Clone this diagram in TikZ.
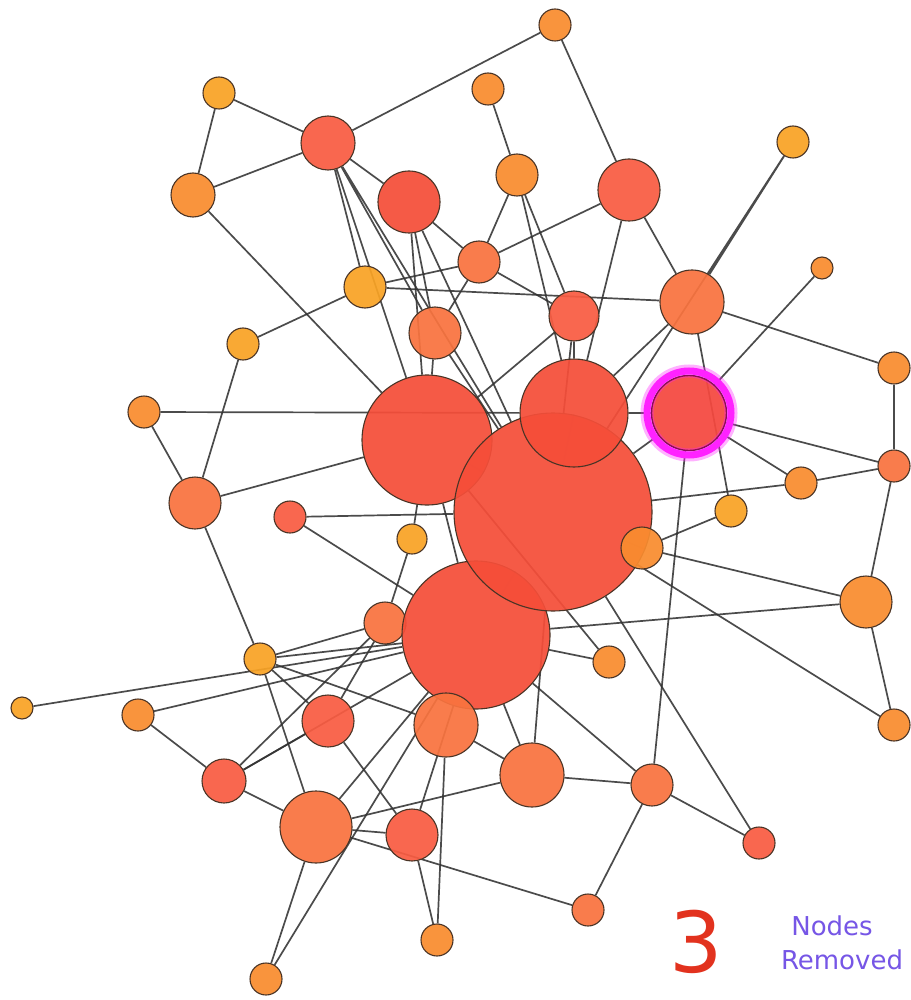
\documentclass[tikz,border=0pt]{standalone}
\usepackage{fontspec}
\setmainfont{DejaVu Sans}
\usetikzlibrary{backgrounds}

\definecolor{leafcol}{HTML}{F9A325}
\definecolor{peercol}{HTML}{F98C2F}
\definecolor{relaycol}{HTML}{F9733F}
\definecolor{corecol}{HTML}{F95C42}
\definecolor{hubcol}{HTML}{F54E39}
\definecolor{gonecol}{HTML}{F5483F}
\definecolor{glowcol}{HTML}{FF22FF}
\definecolor{rimcol}{HTML}{4A3426}
\definecolor{wirecol}{HTML}{333333}
\definecolor{countcol}{HTML}{E2321E}
\definecolor{labelcol}{HTML}{7656E6}

\tikzstyle{vertex} = [circle, inner sep=0pt, draw=rimcol, line width=1.1pt, fill opacity=0.93]
\tikzstyle{leaf} = [vertex, fill=leafcol, minimum size=32pt]
\tikzstyle{peer} = [vertex, fill=peercol]
\tikzstyle{relay} = [vertex, fill=relaycol]
\tikzstyle{core} = [vertex, fill=corecol]
\tikzstyle{hub} = [vertex, fill=hubcol]
\tikzstyle{gone} = [vertex, fill=gonecol, draw=black!70!red, line width=1.4pt]
\tikzstyle{wire} = [draw=wirecol, line width=1.7pt, opacity=0.88]

\begin{document}
\begin{tikzpicture}[x=1pt, y=-1pt]
    \useasboundingbox (0,0) rectangle (910,1000);

    % top rows
    \node (n1) at (555,25) [peer, minimum size=32pt] {};
    \node (n2) at (219,93) [leaf] {};
    \node (n3) at (488,89) [peer, minimum size=32pt] {};
    \node (n4) at (328,143) [core, minimum size=54pt] {};
    \node (n5) at (793,142) [leaf] {};
    \node (n6) at (193,195) [peer, minimum size=44pt] {};
    \node (n7) at (409,202) [hub, minimum size=62pt] {};
    \node (n8) at (517,175) [peer, minimum size=42pt] {};
    \node (n9) at (629,190) [core, minimum size=62pt] {};
    \node (n10) at (822,268) [peer, minimum size=22pt] {};
    \node (n11) at (479,262) [relay, minimum size=42pt] {};
    \node (n12) at (365,287) [leaf, minimum size=42pt] {};
    \node (n13) at (692,302) [relay, minimum size=64pt] {};
    \node (n14) at (574,316) [core, minimum size=50pt] {};
    \node (n15) at (435,333) [relay, minimum size=52pt] {};
    \node (n16) at (243,344) [leaf] {};
    \node (n17) at (894,368) [peer, minimum size=32pt] {};
    \node (n18) at (144,412) [peer, minimum size=32pt] {};

    % middle
    \node (n19) at (427,440) [hub, minimum size=130pt] {};
    \node (n31) at (385,623) [relay, minimum size=42pt] {};
    \node (n30) at (476,635) [hub, minimum size=148pt] {};
    \node (n22) at (553,512) [hub, minimum size=198pt] {};
    \node (n20) at (574,413) [hub, minimum size=108pt] {};
    \node (n21) at (689,413) [gone, minimum size=75pt] {};
    \node (n23) at (195,503) [relay, minimum size=52pt] {};
    \node (n24) at (290,517) [core, minimum size=32pt] {};
    \node (n25) at (412,539) [leaf, minimum size=30pt] {};
    \node (n26) at (801,483) [peer, minimum size=32pt] {};
    \node (n27) at (894,466) [relay, minimum size=32pt] {};
    \node (n28) at (731,511) [leaf] {};
    \node (n29) at (642,548) [peer, minimum size=42pt] {};
    \node (n32) at (866,602) [peer, minimum size=52pt] {};

    % bottom rows
    \node (n33) at (260,659) [leaf] {};
    \node (n34) at (609,662) [peer, minimum size=32pt] {};
    \node (n35) at (22,708) [leaf, minimum size=22pt] {};
    \node (n36) at (138,715) [peer, minimum size=32pt] {};
    \node (n37) at (328,721) [core, minimum size=52pt] {};
    \node (n38) at (446,725) [relay, minimum size=64pt] {};
    \node (n39) at (894,725) [peer, minimum size=32pt] {};
    \node (n40) at (224,781) [core, minimum size=44pt] {};
    \node (n41) at (532,775) [relay, minimum size=64pt] {};
    \node (n42) at (652,785) [relay, minimum size=42pt] {};
    \node (n43) at (316,827) [relay, minimum size=72pt] {};
    \node (n44) at (412,835) [core, minimum size=52pt] {};
    \node (n45) at (759,843) [core, minimum size=32pt] {};
    \node (n46) at (588,910) [relay, minimum size=32pt] {};
    \node (n47) at (437,940) [peer, minimum size=32pt] {};
    \node (n48) at (266,979) [peer, minimum size=32pt] {};

    % highlight of the removed node
    \draw [glowcol, opacity=0.35, line width=13pt] (n21.center) circle (42pt);
    \draw [glowcol, line width=7pt] (n21.center) circle (42pt);

    \node (count) at (696,972) [anchor=base, text=countcol, font=\fontsize{84}{84}\selectfont] {3};
    \node (nodes) at (832,935) [anchor=base, text=labelcol, font=\fontsize{26}{26}\selectfont] {Nodes};
    \node (removed) at (842,969) [anchor=base, text=labelcol, font=\fontsize{26}{26}\selectfont] {Removed};

    \begin{scope}[on background layer]
    \fill [white] (0,0) rectangle (910,1000);
    \draw [wire] (n1) -- (n4) (n1) -- (n9);
    \draw [wire] (n2) -- (n4) (n2) -- (n6);
    \draw [wire] (n3) -- (n8);
    \draw [wire] (n4) -- (n6) (n4) -- (n7) (n4) -- (n12) (n4) -- (n15) (n4) -- (n19) (n4) -- (n22);
    \draw [wire] (n5) -- (n13) (n5) -- (n22);
    \draw [wire] (n6) -- (n19);
    \draw [wire] (n7) -- (n11) (n7) -- (n15) (n7) -- (n22) (n7) -- (n19);
    \draw [wire] (n8) -- (n11) (n8) -- (n14) (n8) -- (n20);
    \draw [wire] (n9) -- (n11) (n9) -- (n20) (n9) -- (n13);
    \draw [wire] (n10) -- (n21);
    \draw [wire] (n11) -- (n12) (n11) -- (n14) (n11) -- (n15);
    \draw [wire] (n12) -- (n13) (n12) -- (n16);
    \draw [wire] (n13) -- (n17) (n13) -- (n20) (n13) -- (n28);
    \draw [wire] (n14) -- (n20) (n14) -- (n19) (n14) -- (n22);
    \draw [wire] (n15) -- (n19) (n15) -- (n22);
    \draw [wire] (n16) -- (n23);
    \draw [wire] (n17) -- (n27);
    \draw [wire] (n18) -- (n20) (n18) -- (n23);
    \draw [wire] (n19) -- (n23) (n19) -- (n25) (n19) -- (n34) (n19) -- (n22) (n19) -- (n30);
    \draw [wire] (n20) -- (n21) (n20) -- (n22);
    \draw [wire] (n21) -- (n26) (n21) -- (n27) (n21) -- (n42) (n21) -- (n22);
    \draw [wire] (n22) -- (n24) (n22) -- (n26) (n22) -- (n29) (n22) -- (n39) (n22) -- (n45) (n22) -- (n41) (n22) -- (n30);
    \draw [wire] (n23) -- (n33);
    \draw [wire] (n24) -- (n30);
    \draw [wire] (n25) -- (n31);
    \draw [wire] (n26) -- (n27);
    \draw [wire] (n27) -- (n32);
    \draw [wire] (n28) -- (n29);
    \draw [wire] (n29) -- (n32);
    \draw [wire] (n30) -- (n32) (n30) -- (n34) (n30) -- (n35) (n30) -- (n36) (n30) -- (n41) (n30) -- (n42)
        (n30) -- (n43) (n30) -- (n44) (n30) -- (n48) (n30) -- (n33) (n30) -- (n40) (n30) -- (n31);
    \draw [wire] (n31) -- (n33) (n31) -- (n37) (n31) -- (n40);
    \draw [wire] (n32) -- (n39);
    \draw [wire] (n33) -- (n37) (n33) -- (n38) (n33) -- (n43);
    \draw [wire] (n36) -- (n40);
    \draw [wire] (n37) -- (n40) (n37) -- (n44);
    \draw [wire] (n38) -- (n41) (n38) -- (n47);
    \draw [wire] (n40) -- (n43);
    \draw [wire] (n41) -- (n42) (n41) -- (n43);
    \draw [wire] (n42) -- (n45) (n42) -- (n46);
    \draw [wire] (n43) -- (n44) (n43) -- (n46) (n43) -- (n48);
    \draw [wire] (n44) -- (n47);
    \end{scope}
\end{tikzpicture}
\end{document}
